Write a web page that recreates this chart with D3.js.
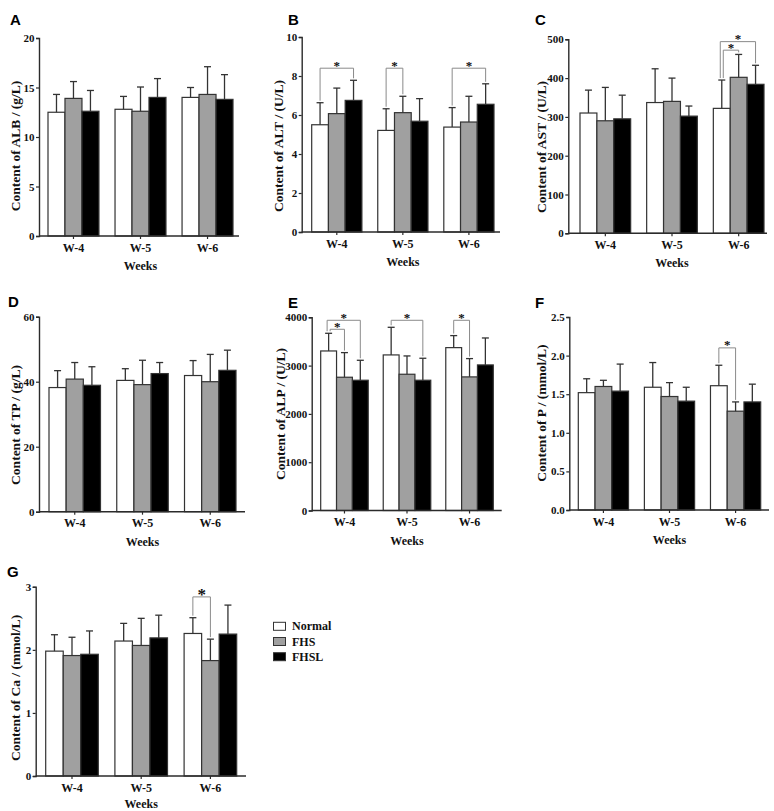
<!DOCTYPE html>
<html>
<head>
<meta charset="utf-8">
<script src="https://cdn.jsdelivr.net/npm/d3@7"></script>
<style>
  html, body { margin: 0; padding: 0; background: #fff; }
  svg { display: block; }
</style>
</head>
<body>
<svg id="chart" width="774" height="811"></svg>
<script>
// ---------------- data ----------------
const weeks  = ["W-4", "W-5", "W-6"];
const groups = ["Normal", "FHS", "FHSL"];

// rows = weeks, columns = groups
const albMean = [[12.5, 13.9, 12.6], [12.8, 12.6, 14.0], [14.0, 14.3, 13.8]];
const albSD   = [[1.8, 1.7, 2.1], [1.3, 2.45, 1.9], [1.0, 2.8, 2.5]];
const albTicks = [0, 5, 10, 15, 20];

const altMean = [[5.5, 6.07, 6.75], [5.21, 6.12, 5.68], [5.38, 5.64, 6.55]];
const altSD   = [[1.13, 1.31, 1.03], [1.11, 0.84, 1.16], [1.0, 1.32, 1.05]];
const altTicks = [0, 2, 4, 6, 8, 10];
const altSig  = [[0, 0, 2, 8.4], [1, 0, 1, 8.4], [2, 0, 2, 8.4]];

const astMean = [[310, 290, 295], [337, 340, 302], [322, 402, 384]];
const astSD   = [[59, 86, 61], [87, 60, 26], [73, 59, 49]];
const astTicks = [0, 100, 200, 300, 400, 500];
const astSig  = [[2, 0, 2, 494], [2, 0, 1, 472]];

const tpMean = [[38.2, 40.8, 38.9], [40.4, 39.1, 42.5], [41.9, 40.0, 43.5]];
const tpSD   = [[5.2, 5.1, 5.7], [3.6, 7.5, 3.4], [4.6, 8.4, 6.2]];
const tpTicks = [0, 20, 40, 60];

const alpMean = [[3303, 2759, 2697], [3221, 2821, 2697], [3372, 2766, 3014]];
const alpSD   = [[366, 510, 413], [572, 379, 455], [249, 379, 558]];
const alpTicks = [0, 1000, 2000, 3000, 4000];
const alpSig  = [[0, 0, 2, 3938], [0, 0, 1, 3752], [1, 0, 2, 3938], [2, 0, 1, 3938]];

const pMean = [[1.52, 1.60, 1.54], [1.59, 1.47, 1.41], [1.61, 1.28, 1.40]];
const pSD   = [[0.18, 0.08, 0.35], [0.32, 0.18, 0.18], [0.265, 0.12, 0.23]];
const pTicks = [0, 0.5, 1.0, 1.5, 2.0, 2.5];
const pSig  = [[2, 0, 1, 2.10]];

const caMean = [[1.98, 1.91, 1.93], [2.14, 2.07, 2.19], [2.26, 1.83, 2.25]];
const caSD   = [[0.26, 0.29, 0.37], [0.28, 0.43, 0.36], [0.25, 0.34, 0.46]];
const caTicks = [0, 1, 2, 3];
const caSig  = [[2, 0, 1, 2.84]];

// ---------------- layout ----------------
const fills = { "Normal": "#ffffff", "FHS": "#a0a0a0", "FHSL": "#000000" };
const serif = "'Liberation Serif', 'Times New Roman', serif";
const sans  = "'Liberation Sans', Arial, sans-serif";
const ink = "#2b2b2b";

const panels = [
  { id: "A", ylab: "Content of ALB / (g/L)", mean: albMean, sd: albSD, ticks: albTicks, fmt: d3.format("d"), sig: [],
    ax: 39, x0: 48, x1: 233, xEnd: 239, yTop: 38, y0: 236, lx: 10, ly: 25, ylx: 15, yly: 146, star: 13, wk: 34 },
  { id: "B", ylab: "Content of ALT / (U/L)", mean: altMean, sd: altSD, ticks: altTicks, fmt: d3.format("d"), sig: altSig,
    ax: 301.7, x0: 311.7, x1: 494, xEnd: 500, yTop: 37, y0: 232, lx: 288, ly: 25, ylx: 278, yly: 146, star: 13, wk: 34 },
  { id: "C", ylab: "Content of AST / (U/L)", mean: astMean, sd: astSD, ticks: astTicks, fmt: d3.format("d"), sig: astSig,
    ax: 568.3, x0: 580, x1: 764, xEnd: 767, yTop: 39.3, y0: 233.3, lx: 535, ly: 25, ylx: 541.7, yly: 147, star: 13, wk: 34 },
  { id: "D", ylab: "Content of TP / (g/L)", mean: tpMean, sd: tpSD, ticks: tpTicks, fmt: d3.format("d"), sig: [],
    ax: 39, x0: 49, x1: 236, xEnd: 245, yTop: 316.7, y0: 511.7, lx: 8, ly: 306.5, ylx: 15, yly: 425, star: 13, wk: 34 },
  { id: "E", ylab: "Content of ALP / (U/L)", mean: alpMean, sd: alpSD, ticks: alpTicks, fmt: d3.format("d"), sig: alpSig,
    ax: 311.7, x0: 320.7, x1: 493.3, xEnd: 501.7, yTop: 317.3, y0: 510.5, lx: 288, ly: 307.5, ylx: 280, yly: 414, star: 13, wk: 34 },
  { id: "F", ylab: "Content of P / (mmol/L)", mean: pMean, sd: pSD, ticks: pTicks, fmt: d3.format(".1f"), sig: pSig,
    ax: 569.3, x0: 578.3, x1: 760.7, xEnd: 769, yTop: 317, y0: 510, lx: 535, ly: 307.5, ylx: 541.7, yly: 413, star: 13, wk: 34 },
  { id: "G", ylab: "Content of Ca / (mmol/L)", mean: caMean, sd: caSD, ticks: caTicks, fmt: d3.format("d"), sig: caSig,
    ax: 35.7, x0: 45.7, x1: 236.7, xEnd: 246, yTop: 586.8, y0: 776, lx: 7, ly: 577, ylx: 15, yly: 688, star: 17, wk: 32 }
];

const svg = d3.select("#chart");
svg.append("rect").attr("width", 774).attr("height", 811).attr("fill", "#fff");

panels.forEach(p => {
  const g = svg.append("g").attr("class", "panel-" + p.id);
  const maxV = p.ticks[p.ticks.length - 1];
  const y = d3.scaleLinear().domain([0, maxV]).range([p.y0, p.yTop]);
  const xb = d3.scaleBand().domain(weeks).range([p.x0, p.x1]).paddingInner(0.24).paddingOuter(0);
  const xi = d3.scaleBand().domain(groups).range([0, xb.bandwidth()]).padding(0);

  // bars
  weeks.forEach((w, wi) => {
    groups.forEach((s, si) => {
      const v = p.mean[wi][si];
      const bx = xb(w) + xi(s);
      g.append("rect")
        .attr("x", bx).attr("y", y(v))
        .attr("width", xi.bandwidth()).attr("height", y(0) - y(v))
        .attr("fill", fills[s]).attr("stroke", "#333").attr("stroke-width", 1.2);
      // error bar (upper)
      const cx = bx + xi.bandwidth() / 2;
      const top = y(v + p.sd[wi][si]);
      g.append("line").attr("x1", cx).attr("x2", cx).attr("y1", y(v)).attr("y2", top)
        .attr("stroke", "#333").attr("stroke-width", 1.3);
      g.append("line").attr("x1", cx - 3.5).attr("x2", cx + 3.5).attr("y1", top).attr("y2", top)
        .attr("stroke", "#333").attr("stroke-width", 1.3);
    });
  });

  // significance brackets
  p.sig.forEach(b => {
    const [wi, a, c, lvl] = b;
    const w = weeks[wi];
    const nestedOther = p.sig.find(o => o !== b && o[0] === wi && o[1] === a && o[2] !== c);
    let shift = 0;
    if (nestedOther) shift = (c > nestedOther[2]) ? -1.5 : 1.5;
    const xa = xb(w) + xi(groups[a]) + xi.bandwidth() / 2 + shift;
    const xc = xb(w) + xi(groups[c]) + xi.bandwidth() / 2;
    const yl = y(lvl);
    const ya = y(p.mean[wi][a] + p.sd[wi][a]) - 2;
    const yc = y(p.mean[wi][c] + p.sd[wi][c]) - 2;
    g.append("path")
      .attr("d", `M${xa},${ya}V${yl}H${xc}V${yc}`)
      .attr("fill", "none").attr("stroke", "#8a8a8a").attr("stroke-width", 1);
    g.append("text")
      .attr("x", (xa + xc) / 2).attr("y", yl + (p.star > 14 ? 3.5 : 1.5))
      .attr("text-anchor", "middle").attr("font-family", serif).attr("font-weight", "bold")
      .attr("font-size", p.star).attr("fill", "#111").text("*");
  });

  // y axis
  const yAxis = d3.axisLeft(y).tickValues(p.ticks).tickFormat(p.fmt).tickSize(3).tickPadding(1.5);
  const gy = g.append("g").attr("transform", `translate(${p.ax},0)`).call(yAxis);
  gy.select(".domain").attr("stroke", ink).attr("stroke-width", 1.4);
  gy.selectAll(".tick line").attr("stroke", ink).attr("stroke-width", 1.2);
  gy.selectAll("text").attr("font-family", serif).attr("font-weight", "bold").attr("font-size", 11).attr("fill", "#111");

  // x axis
  const xAxis = d3.axisBottom(xb).tickSize(3).tickPadding(4);
  const gx = g.append("g").attr("transform", `translate(0,${p.y0})`).call(xAxis);
  gx.select(".domain").attr("d", `M${p.ax},0H${p.xEnd}`).attr("stroke", ink).attr("stroke-width", 1.4);
  gx.selectAll(".tick line").attr("stroke", ink).attr("stroke-width", 1.2);
  gx.selectAll("text").attr("font-family", serif).attr("font-weight", "bold").attr("font-size", 12).attr("fill", "#111");

  // x title
  g.append("text").attr("x", (p.x0 + p.x1) / 2).attr("y", p.y0 + p.wk)
    .attr("text-anchor", "middle").attr("font-family", serif).attr("font-weight", "bold")
    .attr("font-size", 12).attr("fill", "#111").text("Weeks");

  // y title
  g.append("text").attr("transform", `translate(${p.ylx},${p.yly}) rotate(-90)`)
    .attr("text-anchor", "middle").attr("dy", "0.35em")
    .attr("font-family", serif).attr("font-weight", "bold").attr("font-size", 13.5)
    .attr("fill", "#111").text(p.ylab);

  // panel letter
  g.append("text").attr("x", p.lx).attr("y", p.ly)
    .attr("font-family", sans).attr("font-weight", "bold").attr("font-size", 15)
    .attr("fill", "#000").text(p.id);
});

// legend
const lg = svg.append("g").attr("class", "legend");
groups.forEach((s, i) => {
  const yy = 622.3 + i * 15.2;
  lg.append("rect").attr("x", 273.5).attr("y", yy).attr("width", 12).attr("height", 8)
    .attr("fill", fills[s]).attr("stroke", "#333").attr("stroke-width", 1);
  lg.append("text").attr("x", 292).attr("y", yy + 8)
    .attr("font-family", serif).attr("font-weight", "bold").attr("font-size", 12)
    .attr("fill", "#111").text(s);
});
</script>
</body>
</html>
